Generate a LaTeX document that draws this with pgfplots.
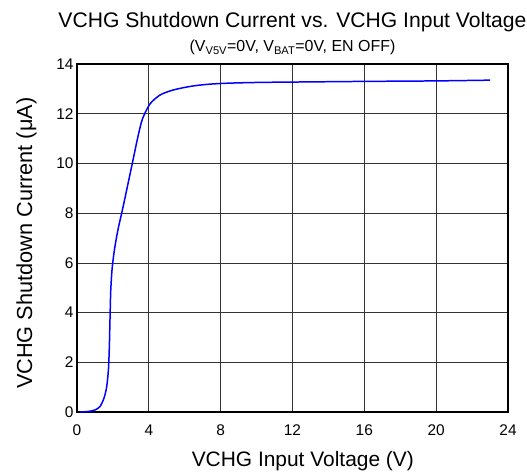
\documentclass[border=0pt]{standalone}
\usepackage{fontspec}
\setmainfont{Liberation Sans}
\usepackage{pgfplots}
\pgfplotsset{compat=1.18}
\begin{document}
\begin{tikzpicture}
\begin{axis}[
  name=ax,
  scale only axis,
  width=431bp, height=348bp,
  xmin=0, xmax=24, ymin=0, ymax=14,
  xtick={0,4,...,24}, ytick={0,2,...,14},
  grid=major,
  major grid style={black!80, line width=0.7pt},
  axis line style={black, line width=1.4pt},
  tick style={draw=none},
  /pgf/number format/assume math mode=true,
  ticklabel style={font=\fontsize{15.5}{17}\selectfont},
  xticklabel style={yshift=-9bp},
  xlabel={VCHG Input Voltage (V)},
  ylabel={VCHG Shutdown Current (μA)},
  xlabel style={font=\fontsize{21}{24}\selectfont, at={(axis description cs:0.524,-0.158)}, anchor=base},
  ylabel style={font=\fontsize{21.8}{24}\selectfont, at={(axis description cs:-0.104,0.485)}, anchor=base},
  clip=false,
]
\addplot[blue, line width=1.5pt, smooth, tension=0.45] coordinates {
 (0.15,0.0) (0.6,0.02) (1.0,0.08) (1.28,0.22) (1.5,0.55) (1.65,1.0) (1.75,1.7) (1.8,2.6) (1.84,3.8) (1.88,4.9) (1.96,5.8) (2.1,6.6) (2.3,7.4) (2.55,8.2) (3.05,9.9) (3.4,11.1) (3.65,11.8) (4.07,12.4) (4.62,12.75) (5.2,12.92) (5.74,13.02) (6.5,13.12) (7.4,13.19) (8.5,13.23) (10.2,13.26) (13,13.28) (16,13.3) (20,13.32) (23,13.35)
};
\node[anchor=base, font=\fontsize{16}{18}\selectfont] at ([yshift=12bp]rel axis cs:0.5,1) {(V\textsubscript{V5V}=0V, V\textsubscript{BAT}=0V, EN OFF)};
\node[anchor=base, font=\fontsize{21.2}{24}\selectfont] at ([yshift=36bp]rel axis cs:0.5,1) {VCHG Shutdown Current vs. VCHG Input Voltage};
\end{axis}
\pgfresetboundingbox
\path ([xshift=-77bp,yshift=-62bp]ax.south west) rectangle ([xshift=19bp,yshift=64bp]ax.north east);
\end{tikzpicture}
\end{document}
